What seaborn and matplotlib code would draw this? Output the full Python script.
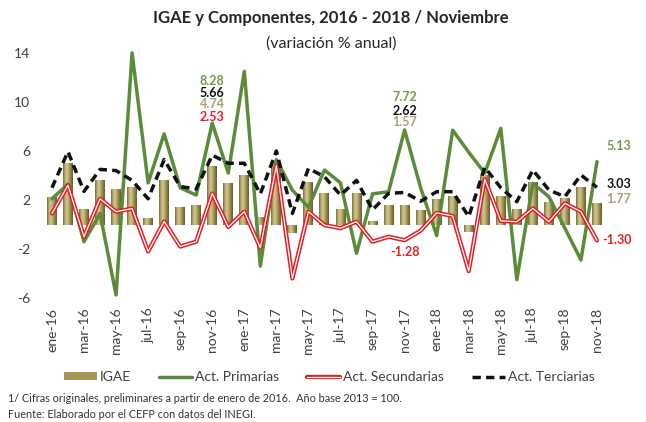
import numpy as np
import pandas as pd
import matplotlib
matplotlib.use("Agg")
import matplotlib.pyplot as plt
import seaborn as sns
from matplotlib.colors import LinearSegmentedColormap
from matplotlib.lines import Line2D
from matplotlib.patches import Patch
import matplotlib.patheffects as pe

# ---------------- data ----------------
meses = ["ene-16", "feb-16", "mar-16", "abr-16", "may-16", "jun-16", "jul-16", "ago-16",
         "sep-16", "oct-16", "nov-16", "dic-16", "ene-17", "feb-17", "mar-17", "abr-17",
         "may-17", "jun-17", "jul-17", "ago-17", "sep-17", "oct-17", "nov-17", "dic-17",
         "ene-18", "feb-18", "mar-18", "abr-18", "may-18", "jun-18", "jul-18", "ago-18",
         "sep-18", "oct-18", "nov-18"]
igae = [2.27, 5.00, 1.25, 3.63, 2.90, 3.10, 0.50, 3.66, 1.42, 1.56, 4.74, 3.36, 4.02, 0.60,
        5.00, -0.72, 3.43, 2.54, 1.25, 2.60, 0.25, 1.59, 1.57, 1.15, 2.10, 2.30, -0.62,
        4.04, 2.33, 1.24, 3.50, 1.86, 2.14, 3.09, 1.77]
primarias = [2.10, 3.30, -1.40, 0.90, -5.75, 14.00, 3.40, 7.40, 3.00, 2.40, 8.28, 4.20,
             12.50, -3.40, 5.30, 2.80, 1.40, 4.45, 3.40, -2.35, 2.50, 2.68, 7.72, 3.00,
             -0.90, 7.70, 5.90, 4.20, 7.85, -4.50, 3.36, 2.27, -0.30, -2.90, 5.13]
secundarias = [0.90, 3.20, -1.00, 2.10, 1.05, 1.30, -2.20, 0.25, -1.80, -1.40, 2.53, -0.20,
               1.05, -1.90, 4.80, -4.40, 1.05, -0.05, -0.30, 0.23, -1.40, -1.00, -1.28, -0.50,
               0.95, 0.70, -3.80, 3.70, 0.30, 0.23, 1.32, 0.23, 1.73, 1.05, -1.30]
terciarias = [3.00, 5.95, 2.70, 4.50, 4.40, 3.60, 2.10, 5.30, 3.10, 2.90, 5.66, 5.00,
              5.00, 2.50, 6.00, 0.90, 4.58, 3.90, 2.40, 3.60, 1.20, 2.54, 2.62, 1.90,
              2.68, 2.68, 0.64, 4.67, 3.00, 1.86, 4.45, 2.82, 2.27, 4.04, 3.03]
yticks = [-6, -2, 2, 6, 10, 14]

series_labels = ["IGAE", "Act. Primarias", "Act. Secundarias", "Act. Terciarias"]

# ---------------- style ----------------
sns.set_theme(style="white")
plt.rcParams["font.family"] = ["Lato", "DejaVu Sans"]
plt.rcParams["axes.unicode_minus"] = False

C_BAR = "#A39757"
C_GREEN = "#5A8C39"
C_GREEN_TXT = "#6E9A4C"
C_RED = "#E41E26"
C_BLACK = "#111111"
C_KHAKI_TXT = "#A9A072"
C_TEXT = "#404040"

df = pd.DataFrame({"mes": meses, "pos": np.arange(len(meses)), "IGAE": igae,
                   "Primarias": primarias, "Secundarias": secundarias,
                   "Terciarias": terciarias})

fig = plt.figure(figsize=(6.46, 4.22), dpi=100)
ax = fig.add_axes([0.068, 0.2938, 0.8685, 0.5806])

sns.barplot(data=df, x="mes", y="IGAE", order=meses, color=C_BAR, width=0.62,
            saturation=1, ax=ax, zorder=1)

# cylinder-like gradient inside each bar
cmap = LinearSegmentedColormap.from_list(
    "cyl", ["#756B38", "#B9AE70", "#D3CA95", "#B0A566", "#8A7F45", "#645B2E"])
grad = np.linspace(0, 1, 64).reshape(1, -1)
for p in list(ax.patches):
    x0, w = p.get_x(), p.get_width()
    y0, h = p.get_y(), p.get_height()
    im = ax.imshow(grad, extent=[x0, x0 + w, min(y0, y0 + h), max(y0, y0 + h)],
                   aspect="auto", cmap=cmap, zorder=1.5, interpolation="bicubic")
    im.set_clip_path(p)

sns.lineplot(data=df, x="pos", y="Primarias", color=C_GREEN, lw=2.5, ax=ax,
             zorder=3, legend=False, clip_on=False)
sns.lineplot(data=df, x="pos", y="Secundarias", color="white", lw=0.9, ax=ax,
             zorder=4, legend=False,
             path_effects=[pe.Stroke(linewidth=3.1, foreground=C_RED), pe.Normal()])
sns.lineplot(data=df, x="pos", y="Terciarias", color=C_BLACK, lw=2.5, ax=ax,
             zorder=5, legend=False, linestyle=(0, (2.4, 1.5)))

ax.set_xlim(-0.5, len(meses) - 0.5)
ax.set_ylim(-6, 14)
ax.set_xticks(range(0, len(meses), 2))
ax.set_xticklabels(meses[::2], rotation=90, fontsize=10, color=C_TEXT)
ax.set_yticks(yticks)
ax.set_yticklabels([str(v) for v in yticks], fontsize=10, color=C_TEXT)
ax.tick_params(axis="x", length=0, pad=7)
ax.tick_params(axis="y", length=0, pad=10)
for s in ax.spines.values():
    s.set_visible(False)
ax.set_xlabel("")
ax.set_ylabel("")

# ---------------- data labels ----------------
def lab(x, y, s, c, ha="center"):
    ax.text(x, y, s, color=c, fontsize=9, fontweight="bold", ha=ha, va="center",
            clip_on=False, zorder=6)

i = 10
lab(i, 11.7, f"{primarias[i]:.2f}", C_GREEN_TXT)
lab(i, 10.7, f"{terciarias[i]:.2f}", C_BLACK)
lab(i, 9.8, f"{igae[i]:.2f}", C_KHAKI_TXT)
lab(i, 8.8, f"{secundarias[i]:.2f}", C_RED)
i = 22
lab(i, 10.4, f"{primarias[i]:.2f}", C_GREEN_TXT)
lab(i, 9.3, f"{terciarias[i]:.2f}", C_BLACK)
lab(i, 8.35, f"{igae[i]:.2f}", C_KHAKI_TXT)
lab(i, -2.25, f"{secundarias[i]:.2f}", C_RED)
i = 34
lab(i + 0.6, 6.4, f"{primarias[i]:.2f}", C_GREEN_TXT, ha="left")
lab(i + 0.6, 3.3, f"{terciarias[i]:.2f}", C_BLACK, ha="left")
lab(i + 0.6, 2.05, f"{igae[i]:.2f}", C_KHAKI_TXT, ha="left")
lab(i + 0.35, -1.27, f"{secundarias[i]:.2f}", C_RED, ha="left")

# ---------------- titles ----------------
fig.text(0.512, 1 - 18 / 422, "IGAE y Componentes, 2016 - 2018 / Noviembre",
         ha="center", va="center", fontsize=12, fontweight="bold", color="#262626")
fig.text(0.512, 1 - 44 / 422, "(variación % anual)", ha="center", va="center",
         fontsize=11.5, color="#262626")

# ---------------- legend ----------------
handles = [
    Patch(facecolor=C_BAR, edgecolor="none"),
    Line2D([0], [0], color=C_GREEN, lw=2.5),
    Line2D([0], [0], color="white", lw=0.9,
           path_effects=[pe.Stroke(linewidth=3.1, foreground=C_RED), pe.Normal()]),
    Line2D([0], [0], color=C_BLACK, lw=2.5, linestyle=(0, (2.4, 1.5))),
]
fig.legend(handles, series_labels, loc="center", bbox_to_anchor=(0.51, 1 - 377 / 422),
           ncol=4, frameon=False, fontsize=10, handlelength=2.4, handleheight=0.5,
           handletextpad=0.2, columnspacing=2.0, labelcolor=C_TEXT)

# ---------------- footnotes ----------------
fig.text(8 / 646, 1 - 398 / 422,
         "1/ Cifras originales, preliminares a partir de enero de 2016.  Año base 2013 = 100.",
         fontsize=7.8, va="center", color="#333333")
fig.text(8 / 646, 1 - 414 / 422, "Fuente: Elaborado por el CEFP con datos del INEGI.",
         fontsize=7.8, va="center", color="#333333")

fig.savefig("out.png", dpi=100)
